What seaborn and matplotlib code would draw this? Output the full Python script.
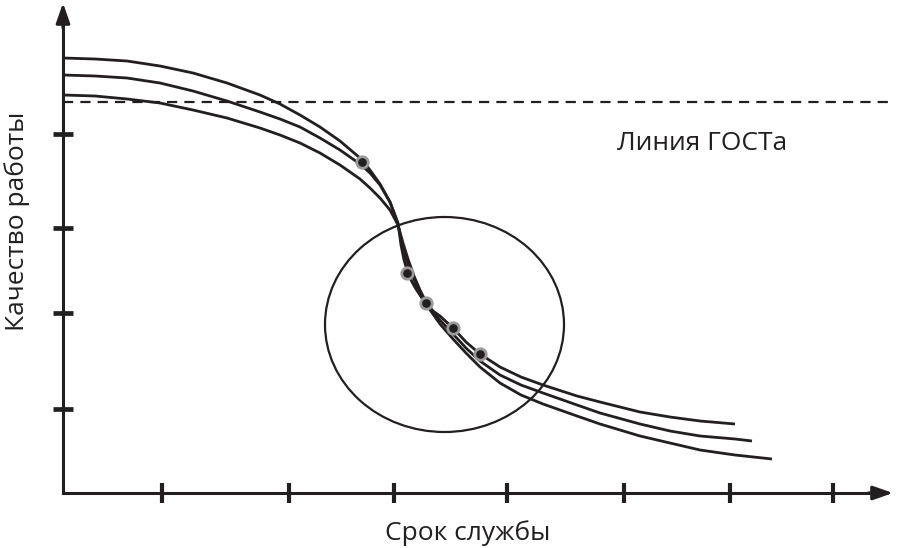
import numpy as np
import pandas as pd
import matplotlib
matplotlib.use("Agg")
import matplotlib.pyplot as plt
from matplotlib.patches import Ellipse
import seaborn as sns

# -----------------------------
# DATA (axis units, origin at the corner of the axes)
# -----------------------------
curve_a_x = [0, 32, 64, 97, 130, 164, 197, 217, 237, 257, 277, 297, 307, 317, 327, 335,
             338, 341, 345, 349, 353, 359, 365, 377, 390, 403, 417, 437, 458, 480, 514,
             537, 577, 607, 637, 672, 709]
curve_a_y = [435, 434, 432, 427, 420, 410, 398, 389, 378, 366, 352, 335, 323, 309, 291, 270,
             248, 233, 220, 211, 204, 195, 186, 169, 154, 140, 126, 110, 98, 89, 77,
             69, 57, 50, 43, 38, 34]

curve_b_x = [0, 32, 64, 97, 130, 164, 197, 217, 237, 257, 277, 297, 307, 317, 327, 335,
             339, 344, 350, 356, 363, 377, 390, 403, 417, 437, 458, 480, 514, 537, 577,
             607, 637, 672, 689]
curve_b_y = [418, 417, 415, 410, 402, 392, 381, 374, 366, 355, 343, 329, 320, 308, 291, 269,
             248, 231, 216, 200, 189, 173, 159, 145, 132, 118, 108, 100, 88, 80, 69,
             62, 57, 54, 52]

curve_c_x = [0, 32, 64, 97, 130, 164, 197, 217, 237, 257, 277, 297, 307, 317, 327, 335,
             340, 345, 351, 357, 363, 370, 377, 390, 403, 417, 437, 458, 480, 514, 537,
             577, 607, 637, 672]
curve_c_y = [398, 397, 394, 390, 383, 375, 365, 358, 350, 340, 328, 314, 305, 295, 283, 268,
             250, 234, 217, 203, 191, 182, 177, 165, 151, 139, 126, 116, 108, 97, 91,
             81, 76, 72, 69]

point_x = [299, 344, 363, 390, 417]
point_y = [331, 220, 190, 165, 139]

gost_level = 391
gost_label = "Линия ГОСТа"

x_ticks = [99, 226, 331, 444, 561, 667, 770]
y_ticks = [84, 180, 265, 359]

x_label = "Срок службы"
y_label = "Качество работы"

ellipse_center = (381.5, 168.5)
ellipse_size = (239, 215)

# -----------------------------
# STYLE
# -----------------------------
sns.set_theme(style="white")
plt.rcParams["font.family"] = ["Open Sans", "DejaVu Sans"]
plt.rcParams["lines.solid_joinstyle"] = "round"
plt.rcParams["lines.solid_capstyle"] = "butt"
ink = "#231f20"

fig = plt.figure(figsize=(9, 5.48), dpi=100)
ax = fig.add_axes([0, 0, 1, 1])
ax.set_xlim(-63, 837)
ax.set_ylim(-55, 493)

# ===== curves =====
curves = pd.concat([
    pd.DataFrame({"x": curve_a_x, "y": curve_a_y, "curve": "a"}),
    pd.DataFrame({"x": curve_b_x, "y": curve_b_y, "curve": "b"}),
    pd.DataFrame({"x": curve_c_x, "y": curve_c_y, "curve": "c"}),
])
sns.lineplot(data=curves, x="x", y="y", hue="curve", units="curve", estimator=None,
             sort=False, palette=[ink] * 3, lw=2.0, legend=False, ax=ax, zorder=3)

# ===== GOST line =====
ax.plot([0, 827], [gost_level, gost_level], color=ink, lw=1.6,
        linestyle=(0, (4.6, 3.2)), zorder=2)
ax.text(554, 343, gost_label, fontsize=19, color=ink, ha="left", va="baseline")

# ===== ellipse =====
ax.add_patch(Ellipse(ellipse_center, ellipse_size[0], ellipse_size[1],
                     fill=False, ec=ink, lw=1.6, zorder=2))

# ===== points =====
sns.scatterplot(x=point_x, y=point_y, s=68, color=ink, edgecolor="#9a9a9a",
                linewidth=2.0, ax=ax, zorder=5)

# ===== axes with arrows =====
for side in ["top", "right"]:
    ax.spines[side].set_visible(False)
ax.spines["left"].set_position(("data", 0))
ax.spines["bottom"].set_position(("data", 0))
ax.spines["left"].set_bounds(0, 475)
ax.spines["bottom"].set_bounds(0, 815)
for side in ["left", "bottom"]:
    ax.spines[side].set_color(ink)
    ax.spines[side].set_linewidth(2.2)

ax.annotate("", xy=(830, 0), xytext=(805, 0),
            arrowprops=dict(arrowstyle="-|>,head_length=1.0,head_width=0.35",
                            color=ink, lw=2.2, shrinkA=0, shrinkB=0))
ax.annotate("", xy=(0, 490), xytext=(0, 465),
            arrowprops=dict(arrowstyle="-|>,head_length=1.0,head_width=0.35",
                            color=ink, lw=2.2, shrinkA=0, shrinkB=0))

ax.set_xticks(x_ticks)
ax.set_yticks(y_ticks)
ax.set_xticklabels([])
ax.set_yticklabels([])
ax.set_xlabel("")
ax.set_ylabel("")
ax.tick_params(axis="x", direction="inout", length=14, width=3.0, color=ink, bottom=True)
ax.tick_params(axis="y", direction="inout", length=14, width=3.4, color=ink, left=True)
ax.grid(False)

# ===== labels =====
ax.text(405, -47, x_label, fontsize=19, color=ink, ha="center", va="baseline")
ax.text(-46, 272, y_label, fontsize=19, color=ink, ha="center", va="center", rotation=90)

fig.savefig("out.png", dpi=100)
